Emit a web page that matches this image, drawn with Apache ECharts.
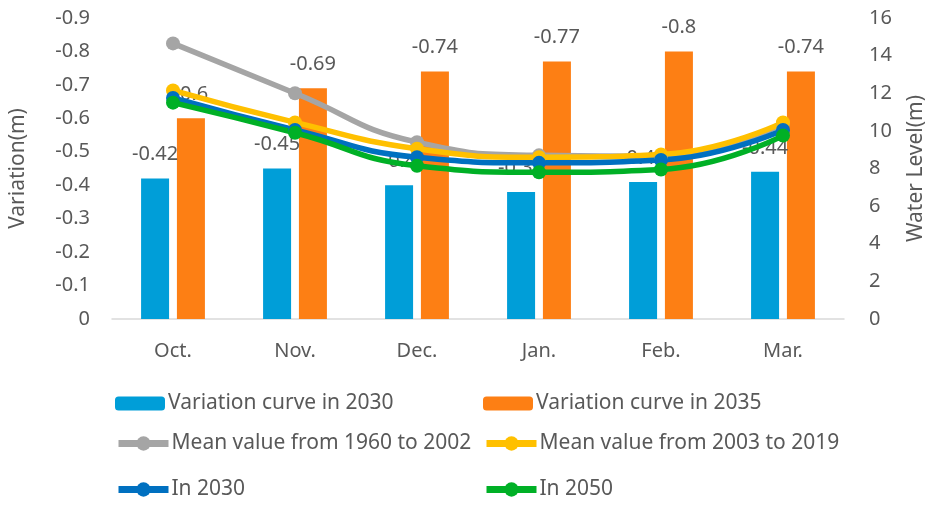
<!DOCTYPE html>
<html>
<head>
<meta charset="utf-8">
<script src="https://cdn.jsdelivr.net/npm/echarts@6/dist/echarts.min.js"></script>
<style>
  html, body { margin: 0; padding: 0; background: #fff; }
  #chart { width: 935px; height: 506px; }
</style>
</head>
<body>
<div id="chart"></div>
<script>
const months = ['Oct.', 'Nov.', 'Dec.', 'Jan.', 'Feb.', 'Mar.']
const var2030 = [-0.42, -0.45, -0.4, -0.38, -0.41, -0.44]
const var2035 = [-0.6, -0.69, -0.74, -0.77, -0.8, -0.74]
const mean1960 = [14.65, 12.0, 9.4, 8.7, 8.65, 10.4]
const mean2003 = [12.15, 10.45, 9.05, 8.6, 8.75, 10.45]
const level2030 = [11.75, 10.05, 8.6, 8.3, 8.45, 10.05]
const level2050 = [11.5, 9.9, 8.15, 7.8, 7.95, 9.75]

const txt = '#595959'
const font = 'Noto Sans'

const myChart = echarts.init(document.getElementById('chart'))

function lineSeries(name, data, color) {
  return {
    name: name,
    type: 'line',
    yAxisIndex: 1,
    data: data,
    smooth: true,
    symbol: 'circle',
    symbolSize: 14,
    lineStyle: { width: 5.5, color: color },
    itemStyle: { color: color },
    z: 5,
  }
}

function legendAt(name, left, top, isBar) {
  return {
    data: [name],
    left: left,
    top: isBar ? top : top - 2,
    itemWidth: 50,
    itemHeight: isBar ? 14 : 18,
    itemGap: 0,
    padding: 0,
    lineStyle: { width: 7 },
    textStyle: { color: txt, fontSize: 21, fontFamily: font, padding: [0, 0, 0, -2] },
  }
}

myChart.setOption({
  animation: false,
  grid: { left: 110, right: 88, top: 18, bottom: 187 },
  legend: [
    legendAt('Variation curve in 2030', 115, 393, true),
    legendAt('Variation curve in 2035', 483, 393, true),
    legendAt('Mean value from 1960 to 2002', 115, 435, false),
    legendAt('Mean value from 2003 to 2019', 483, 435, false),
    legendAt('In 2030', 115, 481, false),
    legendAt('In 2050', 483, 481, false),
  ],
  xAxis: {
    type: 'category',
    data: months,
    axisLine: { lineStyle: { color: '#d9d9d9', width: 1.5 } },
    axisTick: { show: false },
    axisLabel: { color: txt, fontSize: 20, fontFamily: font, margin: 22 },
  },
  yAxis: [
    {
      type: 'value',
      name: 'Variation(m)',
      nameLocation: 'middle',
      nameGap: 83,
      nameTextStyle: { color: txt, fontSize: 21, fontFamily: font },
      inverse: true,
      min: -0.9,
      max: 0,
      interval: 0.1,
      axisLine: { show: false },
      axisTick: { show: false },
      splitLine: { show: false },
      axisLabel: {
        color: txt, fontSize: 20, fontFamily: font, margin: 22,
        formatter: v => (Math.round(v * 10) / 10).toString(),
      },
    },
    {
      type: 'value',
      name: 'Water Level(m)',
      nameLocation: 'middle',
      nameGap: 62,
      nameRotate: 90,
      nameTextStyle: { color: txt, fontSize: 21, fontFamily: font },
      min: 0,
      max: 16,
      interval: 2,
      axisLine: { show: false },
      axisTick: { show: false },
      splitLine: { show: false },
      axisLabel: { color: txt, fontSize: 20, fontFamily: font, margin: 25 },
    },
  ],
  series: [
    {
      name: 'Variation curve in 2030',
      type: 'bar',
      data: var2030,
      barWidth: 28,
      barGap: '28%',
      itemStyle: { color: '#009ed8' },
      label: { show: true, position: 'top', distance: 14, color: txt, fontSize: 20, fontFamily: font },
    },
    {
      name: 'Variation curve in 2035',
      type: 'bar',
      data: var2035,
      barWidth: 28,
      itemStyle: { color: '#fd7f14' },
      label: { show: true, position: 'top', distance: 14, color: txt, fontSize: 20, fontFamily: font },
    },
    lineSeries('Mean value from 1960 to 2002', mean1960, '#a5a5a5'),
    lineSeries('Mean value from 2003 to 2019', mean2003, '#ffc000'),
    lineSeries('In 2030', level2030, '#0070c0'),
    lineSeries('In 2050', level2050, '#00b026'),
  ],
})
</script>
</body>
</html>
